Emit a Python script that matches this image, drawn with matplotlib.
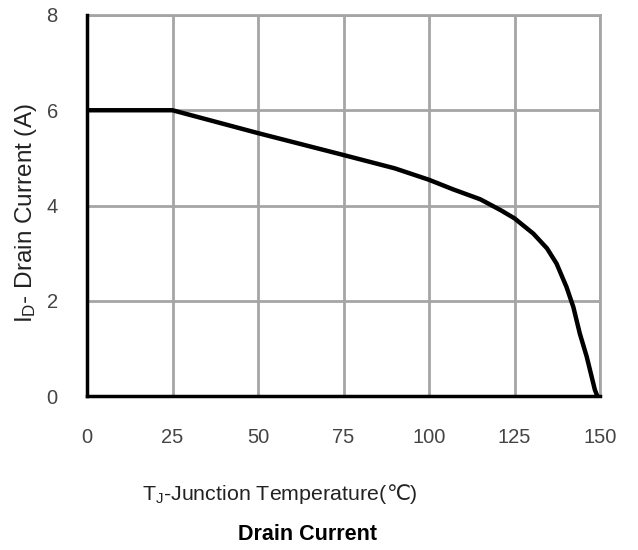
import matplotlib.pyplot as plt

plt.rcParams['font.family'] = ['Liberation Sans', 'DejaVu Sans']
plt.rcParams['mathtext.fontset'] = 'custom'
plt.rcParams['mathtext.rm'] = 'Liberation Sans'

# junction temperature (C) vs drain current (A)
temp = [0, 25, 50, 75, 90, 100, 107, 115, 121, 125, 130.5, 134.5, 137.3,
        140.2, 142.2, 144.1, 146.1, 148.5, 149.2]
current = [6.0, 6.0, 5.52, 5.06, 4.78, 4.54, 4.34, 4.13, 3.90, 3.73, 3.41, 3.10, 2.78,
           2.29, 1.87, 1.31, 0.83, 0.13, 0.0]

x_ticks = [0, 25, 50, 75, 100, 125, 150]
y_ticks = [0, 2, 4, 6, 8]

fig = plt.figure(figsize=(6.38, 5.5), dpi=100)
ax = fig.add_axes([87 / 638, 154 / 550, 513 / 638, 381 / 550])

ax.plot(temp, current, color='black', lw=3.2, solid_capstyle='butt', zorder=3)

ax.set_xlim(0, 150)
ax.set_ylim(0, 8)
ax.set_xticks(x_ticks)
ax.set_yticks(y_ticks)
ax.grid(True, color='#a5a5a5', lw=2)
ax.tick_params(length=0, labelsize=14.5, labelcolor='#444444')
ax.tick_params(axis='x', pad=23)
ax.tick_params(axis='y', pad=21)

for side in ['top', 'right']:
    ax.spines[side].set_color('#a5a5a5')
    ax.spines[side].set_linewidth(2)
for side in ['left', 'bottom']:
    ax.spines[side].set_color('black')
    ax.spines[side].set_linewidth(2.5)
    ax.spines[side].set_zorder(4)

fig.text(26 / 638, 1 - 213 / 550, r'$\mathregular{I_D}$- Drain Current (A)',
         rotation=90, ha='center', va='center', fontsize=17.5, color='#222222')

# x label: mathtext part for the subscript, plain text for the degree sign
xl = fig.text(142 / 638, 1 - 494 / 550, 'T$\\mathregular{_J}$-Junction Temperature(',
              ha='left', va='center', fontsize=15.4, color='#222222')
ax.annotate('℃)', xy=(1, 0.5), xycoords=xl, ha='left', va='center',
            fontsize=15.4, color='#222222', family=['Liberation Sans', 'DejaVu Sans'])

fig.text(308 / 638, 1 - 535 / 550, 'Drain Current',
         ha='center', va='center', fontsize=15.5, fontweight='bold', color='black')

fig.savefig('out.png', dpi=100, facecolor='white')
